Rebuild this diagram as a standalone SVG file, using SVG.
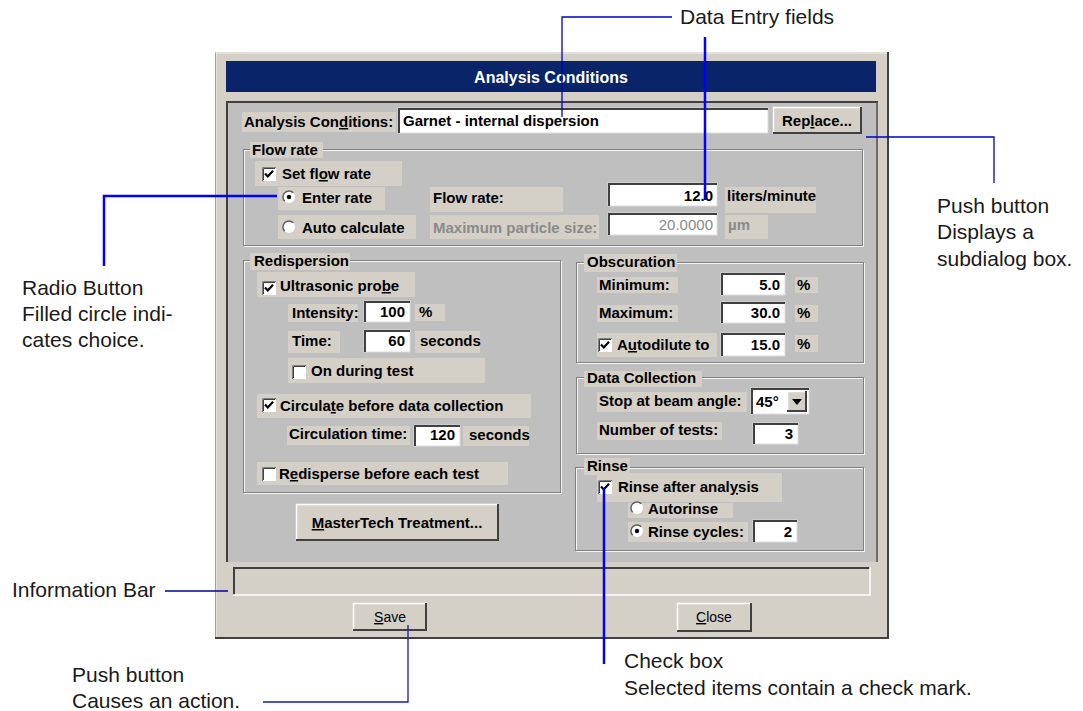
<svg xmlns="http://www.w3.org/2000/svg" xmlns:xlink="http://www.w3.org/1999/xlink" width="1083" height="711" viewBox="0 0 1083 711">
<style>
.t{font-family:"Liberation Sans",Arial,sans-serif;font-size:15px;font-weight:bold;fill:#000}
.gr{fill:#8a8a8a;font-weight:normal}
.end{text-anchor:end}
.mid{text-anchor:middle}
.bt{font-family:"Liberation Sans",Arial,sans-serif;font-size:14px;fill:#000}
.ttl{font-family:"Liberation Sans",Arial,sans-serif;font-size:16px;font-weight:bold;fill:#fff}
.a{font-family:"Liberation Sans",Arial,sans-serif;font-size:21px;fill:#1a1a1a}
.u{text-decoration:underline}
.lbg{fill:#D4D0C8}
.fld{fill:#fff;stroke:#dcdcdc;stroke-width:1}
.fsh{fill:none;stroke:#404040;stroke-width:2}
.btn{fill:#D4D0C8}
.bhi{fill:none;stroke:#fff;stroke-width:1.5}
.bsh{fill:none;stroke:#404040;stroke-width:2}
.gb1{fill:none;stroke:#808080;stroke-width:1}
.gb2{fill:none;stroke:#f4f4f4;stroke-width:1}
.thin{fill:none;stroke:#0000CC;stroke-width:1.3}
.thick{fill:none;stroke:#0000FF;stroke-width:2.5}
</style>
<defs>
<g id="cb">
<rect x="0" y="0" width="14" height="14" fill="#fff"/>
<path d="M0.5 14V0.5H14" fill="none" stroke="#808080"/>
<path d="M1.5 13V1.5H13" fill="none" stroke="#404040"/>
</g>
<g id="cbx">
<use xlink:href="#cb"/>
<path d="M3 6.5L5.8 9.5L11 3.8" fill="none" stroke="#000" stroke-width="2.2"/>
</g>
<g id="rb">
<circle cx="0" cy="0" r="6" fill="#fff"/>
<path d="M-4.3 4.3A6 6 0 0 1 4.3 -4.3" fill="none" stroke="#606060" stroke-width="1.5"/>
</g>
<g id="rbx">
<use xlink:href="#rb"/>
<circle cx="0" cy="0" r="2.2" fill="#000"/>
</g>
</defs>

<rect width="1083" height="711" fill="#fff"/>

<g id="dialog-frame">
<rect x="215" y="52" width="674" height="587" fill="#D4D0C8"/>
<path d="M216 638V53H888" fill="none" stroke="#e8e6e2" stroke-width="1.5"/>
<path d="M215.5 639V52.5" fill="none" stroke="#a0a0a0" stroke-width="1"/>
<path d="M215 638H888V52" fill="none" stroke="#404040" stroke-width="2"/>
</g>

<g id="title-bar">
<rect x="226" y="61" width="650" height="31" fill="#0A246A"/>
<text class="ttl mid" x="551" y="83">Analysis Conditions</text>
</g>

<g id="panel">
<rect x="226" y="101" width="652" height="461" fill="#BFBFBF"/>
<path d="M227 562V102H878" fill="none" stroke="#404040" stroke-width="2"/>
<path d="M877 102V562" fill="none" stroke="#505050" stroke-width="1.5"/>
</g>

<g id="analysis-conditions-row">
<rect class="lbg" x="242" y="112" width="154" height="20"/>
<text class="t" x="244" y="127">Analysis Con<tspan class="u">d</tspan>itions:</text>
<rect class="fld" x="398" y="108" width="370" height="25"/>
<path class="fsh" d="M399 133V109H768"/>
<text class="t" x="403" y="126">Garnet - internal dispersion</text>
</g>

<g id="replace-button">
<rect class="btn" x="773" y="107" width="89" height="27"/>
<path class="bhi" d="M773.5 134V107.5H862"/>
<path class="bsh" d="M773 133H861V107"/>
<text class="t mid" x="817" y="126">Rep<tspan class="u">l</tspan>ace...</text>
</g>

<g id="flow-rate">
<rect class="gb2" x="244.5" y="150.5" width="619" height="96"/>
<rect class="gb1" x="243.5" y="149.5" width="619" height="96"/>
<rect class="lbg" x="250" y="142" width="73" height="16"/>
<text class="t" x="252" y="155">Flow rate</text>
<rect class="lbg" x="255" y="161" width="147" height="25"/>
<use xlink:href="#cbx" x="262" y="167"/>
<text class="t" x="282" y="179">Set fl<tspan class="u">o</tspan>w rate</text>
<rect class="lbg" x="278" y="187" width="107" height="23"/>
<use xlink:href="#rbx" x="289" y="197"/>
<text class="t" x="302" y="203">Enter rate</text>
<rect class="lbg" x="278" y="215" width="138" height="24"/>
<use xlink:href="#rb" x="289" y="227"/>
<text class="t" x="302" y="233">Auto calculate</text>
<rect class="lbg" x="430" y="187" width="133" height="25"/>
<text class="t" x="433" y="203">Flow rate:</text>
<rect class="lbg" x="430" y="215" width="169" height="24"/>
<text class="t" x="433" y="233" style="fill:#8a8a8a">Maximum particle size:</text>
<rect class="fld" x="608" y="183" width="109" height="23"/>
<path class="fsh" d="M609 206V184H717"/>
<text class="t end" x="713" y="201">12.0</text>
<rect class="lbg" x="725" y="187" width="91" height="26"/>
<text class="t" x="727" y="201">liters/minute</text>
<rect class="fld" x="608" y="213" width="109" height="22"/>
<path class="fsh" d="M609 235V214H717"/>
<text class="t gr end" x="713" y="230">20.0000</text>
<rect class="lbg" x="725" y="215" width="43" height="24"/>
<text class="t" x="728" y="230" style="fill:#8a8a8a">µm</text>
</g>

<g id="redispersion">
<rect class="gb2" x="244.5" y="261.5" width="317" height="232"/>
<rect class="gb1" x="243.5" y="260.5" width="317" height="232"/>
<rect class="lbg" x="250" y="253" width="100" height="17"/>
<text class="t" x="254" y="266">Redispersion</text>
<rect class="lbg" x="257" y="272" width="158" height="25"/>
<use xlink:href="#cbx" x="262" y="281"/>
<text class="t" x="280" y="291">Ultrasonic pro<tspan class="u">b</tspan>e</text>
<rect class="lbg" x="288" y="304" width="70" height="18"/>
<text class="t" x="292" y="318">Intensity:</text>
<rect class="fld" x="364" y="301" width="46" height="21"/>
<path class="fsh" d="M365 322V302H410"/>
<text class="t end" x="405" y="317">100</text>
<rect class="lbg" x="415" y="304" width="30" height="17"/>
<text class="t" x="419" y="317">%</text>
<rect class="lbg" x="288" y="331" width="52" height="22"/>
<text class="t" x="292" y="346">Time:</text>
<rect class="fld" x="364" y="330" width="46" height="22"/>
<path class="fsh" d="M365 352V331H410"/>
<text class="t end" x="405" y="346">60</text>
<rect class="lbg" x="415" y="331" width="65" height="22"/>
<text class="t" x="420" y="346">seconds</text>
<rect class="lbg" x="288" y="358" width="197" height="25"/>
<use xlink:href="#cb" x="292" y="365"/>
<text class="t" x="311" y="376">On during test</text>
<rect class="lbg" x="257" y="394" width="274" height="24"/>
<use xlink:href="#cbx" x="262" y="398"/>
<text class="t" x="280" y="411">Circula<tspan class="u">t</tspan>e before data collection</text>
<rect class="lbg" x="287" y="426" width="123" height="19"/>
<text class="t" x="289" y="439">Circulation time:</text>
<rect class="fld" x="414" y="425" width="46" height="21"/>
<path class="fsh" d="M415 446V426H460"/>
<text class="t end" x="455" y="440">120</text>
<rect class="lbg" x="463" y="426" width="66" height="20"/>
<text class="t" x="469" y="440">seconds</text>
<rect class="lbg" x="257" y="462" width="251" height="23"/>
<use xlink:href="#cb" x="262" y="467"/>
<text class="t" x="279" y="479">R<tspan class="u">e</tspan>disperse before each test</text>
</g>

<g id="mastertech-button">
<rect class="btn" x="296" y="504" width="203" height="37"/>
<path class="bhi" d="M296.5 541V504.5H499"/>
<path class="bsh" d="M296 540H498V504"/>
<text class="t mid" x="397" y="528"><tspan class="u">M</tspan>asterTech Treatment...</text>
</g>

<g id="obscuration">
<rect class="gb2" x="577.5" y="263.5" width="287" height="100"/>
<rect class="gb1" x="576.5" y="262.5" width="287" height="100"/>
<rect class="lbg" x="584" y="254" width="93" height="18"/>
<text class="t" x="587" y="267">Obscuration</text>
<rect class="lbg" x="597" y="277" width="81" height="16"/>
<text class="t" x="599" y="290">Minimum:</text>
<rect class="fld" x="721" y="273" width="64" height="22"/>
<path class="fsh" d="M722 295V274H785"/>
<text class="t end" x="780" y="290">5.0</text>
<rect class="lbg" x="795" y="277" width="23" height="16"/>
<text class="t" x="797" y="290">%</text>
<rect class="lbg" x="597" y="305" width="81" height="17"/>
<text class="t" x="599" y="318">Maximum:</text>
<rect class="fld" x="721" y="302" width="64" height="21"/>
<path class="fsh" d="M722 323V303H785"/>
<text class="t end" x="780" y="318">30.0</text>
<rect class="lbg" x="795" y="305" width="23" height="17"/>
<text class="t" x="797" y="318">%</text>
<rect class="lbg" x="597" y="333" width="120" height="24"/>
<use xlink:href="#cbx" x="598" y="338"/>
<text class="t" x="617" y="350">A<tspan class="u">u</tspan>todilute to</text>
<rect class="fld" x="721" y="333" width="64" height="23"/>
<path class="fsh" d="M722 356V334H785"/>
<text class="t end" x="780" y="350">15.0</text>
<rect class="lbg" x="795" y="335" width="23" height="17"/>
<text class="t" x="797" y="349">%</text>
</g>

<g id="data-collection">
<rect class="gb2" x="577.5" y="378.5" width="287" height="76"/>
<rect class="gb1" x="576.5" y="377.5" width="287" height="76"/>
<rect class="lbg" x="584" y="371" width="118" height="16"/>
<text class="t" x="587" y="383">Data Collection</text>
<rect class="lbg" x="597" y="392" width="150" height="20"/>
<text class="t" x="599" y="406">Stop at beam an<tspan class="u">g</tspan>le:</text>
<rect class="fld" x="751" y="388" width="58" height="26"/>
<path class="fsh" d="M752 414V389H809"/>
<text class="t" x="756" y="407">45°</text>
<rect class="btn" x="787" y="391" width="20" height="21"/>
<path class="bhi" d="M787.5 412V391.5H807"/>
<path class="bsh" d="M787 411H806V391"/>
<path d="M792 399H802L797 405Z" fill="#000"/>
<rect class="lbg" x="597" y="422" width="125" height="18"/>
<text class="t" x="599" y="435">Number of tests:</text>
<rect class="fld" x="753" y="423" width="45" height="21"/>
<path class="fsh" d="M754 444V424H798"/>
<text class="t end" x="793" y="439">3</text>
</g>

<g id="rinse">
<rect class="gb2" x="576.5" y="468.5" width="288" height="83"/>
<rect class="gb1" x="575.5" y="467.5" width="288" height="83"/>
<rect class="lbg" x="584" y="458" width="46" height="17"/>
<text class="t" x="587" y="471">Rinse</text>
<rect class="lbg" x="597" y="473" width="185" height="29"/>
<use xlink:href="#cbx" x="598" y="480"/>
<text class="t" x="618" y="492">Rinse after anal<tspan class="u">y</tspan>sis</text>
<rect class="lbg" x="628" y="503" width="105" height="15"/>
<use xlink:href="#rb" x="637" y="508"/>
<text class="t" x="648" y="514">Autorinse</text>
<rect class="lbg" x="628" y="522" width="120" height="20"/>
<use xlink:href="#rbx" x="637" y="531"/>
<text class="t" x="648" y="537">Rinse cycles:</text>
<rect class="fld" x="753" y="520" width="44" height="22"/>
<path class="fsh" d="M754 542V521H797"/>
<text class="t end" x="792" y="537">2</text>
</g>

<g id="info-bar">
<rect x="233" y="567" width="637" height="28" fill="#D4D0C8"/>
<path d="M234 595V568H870" fill="none" stroke="#404040" stroke-width="2"/>
<path d="M233 595H870V567" fill="none" stroke="#fff" stroke-width="1.5"/>
</g>

<g id="save-button">
<rect class="btn" x="353" y="603" width="74" height="28"/>
<path class="bhi" d="M353.5 631V603.5H427"/>
<path class="bsh" d="M353 630H426V603"/>
<text class="bt mid" x="390" y="622"><tspan class="u">S</tspan>ave</text>
</g>

<g id="close-button">
<rect class="btn" x="677" y="603" width="75" height="29"/>
<path class="bhi" d="M677.5 632V603.5H752"/>
<path class="bsh" d="M677 631H751V603"/>
<text class="bt mid" x="714" y="622"><tspan class="u">C</tspan>lose</text>
</g>

<g id="label-data-entry">
<text class="a" x="680" y="24">Data Entry fields</text>
</g>
<g id="label-push-button-subdialog">
<text class="a" x="937" y="213">Push button</text>
<text class="a" x="937" y="239">Displays a</text>
<text class="a" x="937" y="266">subdialog box.</text>
</g>
<g id="label-radio-button">
<text class="a" x="22" y="295">Radio Button</text>
<text class="a" x="22" y="321">Filled circle indi-</text>
<text class="a" x="22" y="347">cates choice.</text>
</g>
<g id="label-information-bar">
<text class="a" x="12" y="597">Information Bar</text>
</g>
<g id="label-push-button-action">
<text class="a" x="72" y="682">Push button</text>
<text class="a" x="72" y="708">Causes an action.</text>
</g>
<g id="label-check-box">
<text class="a" x="624" y="668">Check box</text>
<text class="a" x="624" y="695">Selected items contain a check mark.</text>
</g>

<g id="connectors">
<path class="thin" d="M672 17H562V117"/>
<path class="thick" d="M705 37V200"/>
<path class="thin" d="M866 137H994V183"/>
<path class="thick" d="M104 266V196H277"/>
<path class="thin" d="M165 591H228" style="stroke:#000099"/>
<path class="thin" d="M408 625V702H263" style="stroke:#1a1aaa"/>
<path class="thick" d="M604 488V664"/>
</g>
</svg>
